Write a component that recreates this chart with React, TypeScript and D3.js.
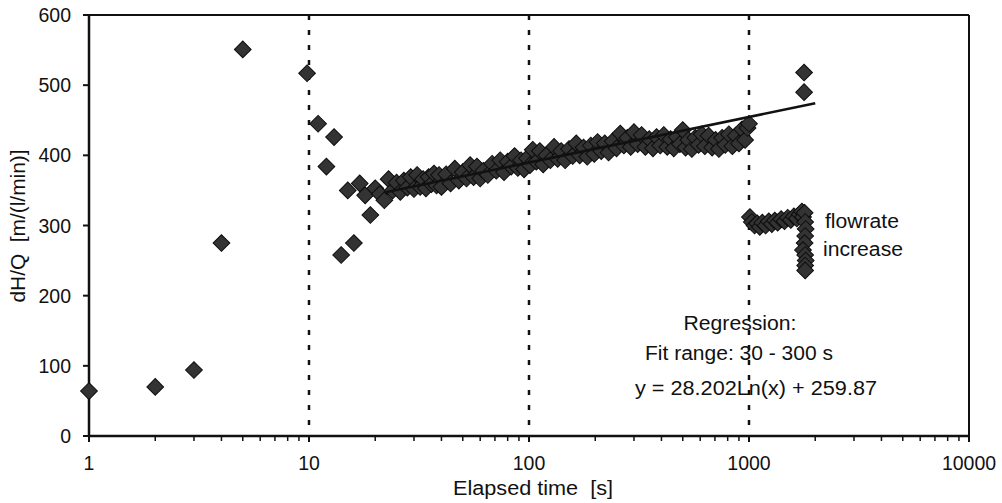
import React from "react";
import * as d3 from "d3";

// ---- data ----
const times: number[] = [
  1, 2, 3, 4, 5, 9.8, 11, 12, 13, 14, 15, 16, 17, 18, 19, 20, 21, 22,
  23, 24, 25, 26, 27, 28, 29, 30, 31, 32, 33, 34, 35, 36, 37, 38, 39, 40,
  42, 44, 46, 48, 50, 52, 54, 56, 58, 60, 62, 65, 68, 71, 74, 77, 80, 83, 86, 89,
  92, 95, 98, 101, 104, 108, 112, 116, 120, 125, 130, 135, 140, 146, 152, 158,
  164, 170, 177, 184, 191, 198, 205, 213, 221, 230, 240, 250, 260, 270, 280,
  290, 300, 312, 325, 338, 352, 366, 380, 395, 410, 425, 440, 455, 470, 485,
  500, 515, 530, 550, 570, 590, 610, 630, 655, 680, 705, 730, 755, 780, 810,
  840, 870, 900, 930, 960, 985, 1000,
  1010, 1030, 1060, 1090, 1120, 1150, 1190, 1230, 1270, 1310, 1350, 1400,
  1450, 1500, 1550, 1600, 1650, 1700, 1740, 1760,
  1790, 1800, 1810, 1800, 1790, 1760, 1800, 1810, 1800, 1800,
  1780, 1780,
];
const values: number[] = [
  64, 70, 94, 275, 551, 517, 445, 384, 426, 258, 350, 275, 360, 343, 315, 353, 345, 336,
  366, 350, 361, 348, 364, 354, 369, 352, 372, 355, 366, 353, 369, 359, 374, 357, 372, 355,
  373, 360, 381, 364, 376, 367, 386, 369, 384, 367, 378, 372, 388, 378, 393, 376, 391, 384, 399, 382,
  393, 380, 396, 386, 408, 391, 406, 387, 400, 393, 412, 395, 406, 393, 409, 399,
  417, 400, 411, 398, 414, 402, 419, 406, 417, 404, 420, 410, 431, 414, 425,
  412, 433, 416, 429, 412, 423, 410, 426, 414, 429, 412, 423, 410, 426, 416,
  436, 411, 422, 409, 425, 415, 430, 413, 428, 411, 422, 409, 425, 415, 430,
  413, 428, 417, 437, 422, 439, 445,
  312, 305, 300, 303, 298, 304, 300, 306, 302, 307, 304, 309,
  306, 311, 308, 313, 310, 316, 320, 312,
  318, 305, 295, 285, 275, 265, 258, 250, 243, 236,
  518, 490,
];

const xTickValues: number[] = [1, 10, 100, 1000, 10000];
const yTickValues: number[] = [0, 100, 200, 300, 400, 500, 600];
const dottedLines: number[] = [10, 100, 1000];

// regression y = a ln(x) + b
const regA = 28.202;
const regB = 259.87;
const regStart = 22;
const regEnd = 2000;

const xLabel = "Elapsed time  [s]";
const yLabel = "dH/Q  [m/(l/min)]";
const annotations: string[] = ["Regression:", "Fit range: 30 - 300 s", "y = 28.202Ln(x) + 259.87"];
const noteLines: string[] = ["flowrate", "increase"];

export default function App() {
  const W = 1002, H = 503;
  const x = d3.scaleLog().domain([1, 10000]).range([89, 969]);
  const y = d3.scaleLinear().domain([0, 600]).range([436, 15]);
  const font = "'Liberation Sans', Arial, sans-serif";
  const fs = 19.5;

  const minorTicks: number[] = [];
  for (let p = 0; p < 4; p++) {
    for (let m = 2; m <= 9; m++) minorTicks.push(m * Math.pow(10, p));
  }

  const diamond = d3.symbol().type(d3.symbolSquare).size(140)();

  const regLine = d3
    .line<number>()
    .x((t) => x(t))
    .y((t) => y(regA * Math.log(t) + regB));
  const regTs = [regStart, regEnd];

  const txt = (s: string, px: number, py: number, len: number, anchor: string = "middle") => (
    <text
      x={px}
      y={py}
      textAnchor={anchor}
      fontFamily={font}
      fontSize={fs}
      fill="#111"
      textLength={len}
      lengthAdjust="spacingAndGlyphs"
      style={{ whiteSpace: "pre" }}
    >
      {s}
    </text>
  );

  return (
    <svg width={W} height={H} style={{ position: "absolute", left: 0, top: 0, background: "#fff" }}>
      <rect x={0} y={0} width={W} height={H} fill="#fff" />
      {/* dotted verticals */}
      {dottedLines.map((d) => (
        <line key={d} x1={x(d)} x2={x(d)} y1={y(600)} y2={y(0)} stroke="#111" strokeWidth={2.5} strokeDasharray="5,10" />
      ))}
      {/* frame */}
      <line x1={x(1)} x2={x(10000)} y1={y(600)} y2={y(600)} stroke="#111" strokeWidth={2} />
      <line x1={x(10000)} x2={x(10000)} y1={y(600)} y2={y(0)} stroke="#111" strokeWidth={2} />
      <line x1={x(1)} x2={x(1)} y1={y(600)} y2={y(0)} stroke="#111" strokeWidth={2.5} />
      <line x1={x(1)} x2={x(10000)} y1={y(0)} y2={y(0)} stroke="#111" strokeWidth={2.5} />
      {/* y ticks */}
      {yTickValues.map((v) => (
        <g key={v}>
          <line x1={x(1) - 6} x2={x(1)} y1={y(v)} y2={y(v)} stroke="#111" strokeWidth={2} />
          <text x={71} y={y(v) + 7} textAnchor="end" fontFamily={font} fontSize={fs} fill="#111">
            {v}
          </text>
        </g>
      ))}
      {/* x ticks */}
      {minorTicks.map((t) => (
        <line key={"m" + t} x1={x(t)} x2={x(t)} y1={y(0)} y2={y(0) + 5} stroke="#111" strokeWidth={1.5} />
      ))}
      {xTickValues.map((t) => (
        <g key={t}>
          <line x1={x(t)} x2={x(t)} y1={y(0)} y2={y(0) + 6} stroke="#111" strokeWidth={2} />
          <text x={x(t)} y={470} textAnchor="middle" fontFamily={font} fontSize={fs} fill="#111">
            {t}
          </text>
        </g>
      ))}
      {/* points */}
      {times.map((t, i) => (
        <path
          key={i}
          d={diamond as string}
          transform={`translate(${x(t)},${y(values[i])}) rotate(45)`}
          fill="#333"
          stroke="#0d0d0d"
          strokeWidth={1}
        />
      ))}
      {/* regression line */}
      <path d={regLine(regTs) as string} fill="none" stroke="#111" strokeWidth={2.5} />
      {/* axis labels */}
      {txt(xLabel, 533, 495, 160)}
      <g transform="translate(25,226) rotate(-90)">{txt(yLabel, 0, 0, 153)}</g>
      {/* annotations */}
      {txt(annotations[0], 740, 330, 113)}
      {txt(annotations[1], 739, 360, 188)}
      {txt(annotations[2], 756, 395, 242)}
      {txt(noteLines[0], 825, 228, 74, "start")}
      {txt(noteLines[1], 823, 256, 80, "start")}
    </svg>
  );
}
